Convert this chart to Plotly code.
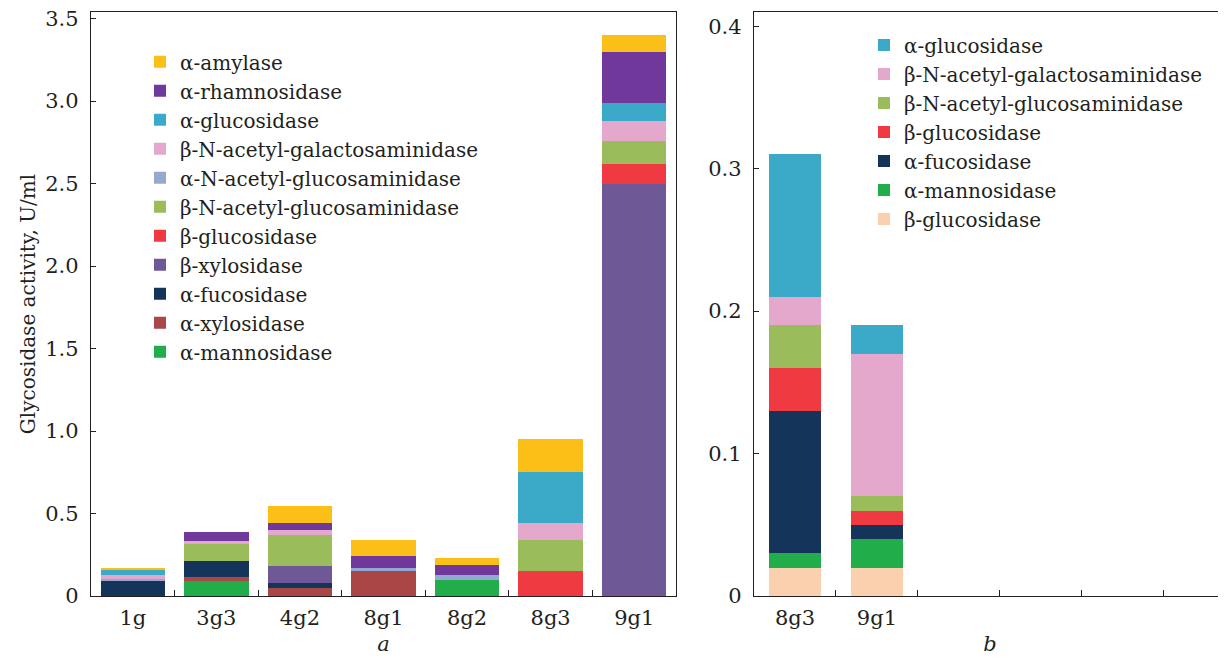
import plotly.graph_objects as go

# ---------------- data: panel a ----------------
cats_a = ["1g", "3g3", "4g2", "8g1", "8g2", "8g3", "9g1"]
# stacked bottom -> top
a_mannosidase   = [0, 0.09, 0, 0, 0.10, 0, 0]
a_a_xylosidase  = [0, 0.025, 0.05, 0.15, 0, 0, 0]
a_fucosidase    = [0.095, 0.10, 0.03, 0, 0, 0, 0]
a_b_xylosidase  = [0, 0, 0.10, 0, 0, 0, 2.50]
a_b_glucosidase = [0, 0, 0, 0, 0, 0.15, 0.12]
a_b_nac_glc     = [0, 0.10, 0.19, 0, 0, 0.19, 0.14]
a_a_nac_glc     = [0.01, 0, 0, 0.02, 0.03, 0, 0]
a_b_nac_gal     = [0.02, 0.02, 0.03, 0, 0, 0.10, 0.12]
a_a_glucosidase = [0.03, 0, 0, 0, 0, 0.31, 0.11]
a_rhamnosidase  = [0, 0.05, 0.045, 0.07, 0.055, 0, 0.31]
a_amylase       = [0.015, 0, 0.10, 0.10, 0.045, 0.20, 0.10]

# ---------------- data: panel b ----------------
cats_b = ["8g3", "9g1"]
b_b_glucosidase_peach = [0.02, 0.02]
b_mannosidase   = [0.01, 0.02]
b_fucosidase    = [0.10, 0.01]
b_b_glucosidase = [0.03, 0.01]
b_b_nac_glc     = [0.03, 0.01]
b_b_nac_gal     = [0.02, 0.10]
b_a_glucosidase = [0.10, 0.02]

ticks_a = [0, 0.5, 1.0, 1.5, 2.0, 2.5, 3.0, 3.5]
ticklabels_a = ["0", "0.5", "1.0", "1.5", "2.0", "2.5", "3.0", "3.5"]
ticks_b = [0, 0.1, 0.2, 0.3, 0.4]
ticklabels_b = ["0", "0.1", "0.2", "0.3", "0.4"]

C = {
    "amylase": "#fbbf18",
    "rham": "#70389a",
    "aglc": "#3aaac8",
    "bnacgal": "#e3a8cc",
    "anacglc": "#93a9d3",
    "bnacglc": "#9bbc5a",
    "bglc": "#ee3a40",
    "bxyl": "#6f5896",
    "fuc": "#14345a",
    "axyl": "#a94646",
    "man": "#22ad4b",
    "peach": "#fbd0ae",
}

FONT = "DejaVu Serif"
TXT = "#231f20"
W, H = 1218, 650   # page body has an 8px margin; figure offset by (8, 8)

fig = go.Figure()

series_a = [
    ("α-mannosidase", a_mannosidase, C["man"]),
    ("α-xylosidase", a_a_xylosidase, C["axyl"]),
    ("α-fucosidase", a_fucosidase, C["fuc"]),
    ("β-xylosidase", a_b_xylosidase, C["bxyl"]),
    ("β-glucosidase", a_b_glucosidase, C["bglc"]),
    ("β-N-acetyl-glucosaminidase", a_b_nac_glc, C["bnacglc"]),
    ("α-N-acetyl-glucosaminidase", a_a_nac_glc, C["anacglc"]),
    ("β-N-acetyl-galactosaminidase", a_b_nac_gal, C["bnacgal"]),
    ("α-glucosidase", a_a_glucosidase, C["aglc"]),
    ("α-rhamnosidase", a_rhamnosidase, C["rham"]),
    ("α-amylase", a_amylase, C["amylase"]),
]
for name, vals, col in series_a:
    fig.add_trace(go.Bar(
        x=cats_a, y=vals, name=name, marker=dict(color=col, line=dict(width=0)),
        xaxis="x", yaxis="y", legend="legend",
    ))

series_b = [
    ("β-glucosidase", b_b_glucosidase_peach, C["peach"]),
    ("α-mannosidase", b_mannosidase, C["man"]),
    ("α-fucosidase", b_fucosidase, C["fuc"]),
    ("β-glucosidase", b_b_glucosidase, C["bglc"]),
    ("β-N-acetyl-glucosaminidase", b_b_nac_glc, C["bnacglc"]),
    ("β-N-acetyl-galactosaminidase", b_b_nac_gal, C["bnacgal"]),
    ("α-glucosidase", b_a_glucosidase, C["aglc"]),
]
for name, vals, col in series_b:
    fig.add_trace(go.Bar(
        x=list(range(len(cats_b))), y=vals, name=name, width=0.63,
        marker=dict(color=col, line=dict(width=0)),
        xaxis="x2", yaxis="y2", legend="legend2",
    ))

axis_common = dict(
    showline=True, linecolor=TXT, linewidth=1.3, showgrid=False, zeroline=False,
    tickfont=dict(family=FONT, size=21, color=TXT), tickcolor=TXT,
    ticklabeloverflow="allow",
)

fig.update_layout(
    width=W, height=H,
    margin=dict(l=0, r=0, t=4, b=62),
    paper_bgcolor="white", plot_bgcolor="white",
    barmode="stack", bargap=0.23,
    font=dict(family=FONT, size=20, color=TXT),
    showlegend=True,
    xaxis=dict(
        domain=[83 / W, 668 / W], anchor="y", type="category",
        categoryorder="array", categoryarray=cats_a,
        tickson="boundaries", ticks="inside", ticklen=6, mirror=True,
        ticklabelstandoff=3,
        title=dict(text="<i>a</i>", font=dict(family=FONT, size=21, color=TXT), standoff=6),
        **axis_common,
    ),
    yaxis=dict(
        domain=[0, 1], anchor="x", range=[0, 3.54],
        tickmode="array", tickvals=ticks_a, ticktext=ticklabels_a,
        ticks="inside", ticklen=5, mirror=True, ticklabelstandoff=7,
        title=dict(text="Glycosidase activity, U/ml", font=dict(family=FONT, size=20, color=TXT), standoff=4),
        **axis_common,
    ),
    xaxis2=dict(
        domain=[746 / W, 1.0], anchor="y2", range=[-0.5, 5.26],
        tickmode="array", tickvals=list(range(len(cats_b))), ticktext=cats_b,
        ticks="", mirror=True, ticklabelstandoff=3,
        minor=dict(tickmode="array", tickvals=[0.5, 1.5, 2.5, 3.5, 4.5],
                   ticks="inside", ticklen=6, tickcolor=TXT, showgrid=False),
        title=dict(text="<i>b</i>", font=dict(family=FONT, size=21, color=TXT), standoff=6),
        **axis_common,
    ),
    yaxis2=dict(
        domain=[0, 1], anchor="x2", range=[0, 0.41],
        tickmode="array", tickvals=ticks_b, ticktext=ticklabels_b,
        ticks="inside", ticklen=5, mirror=False, ticklabelstandoff=7,
        **axis_common,
    ),
    legend=dict(
        x=132 / W, y=0.948, xanchor="left", yanchor="top",
        traceorder="reversed",
        bgcolor="rgba(0,0,0,0)", font=dict(family=FONT, size=20, color=TXT),
    ),
    legend2=dict(
        x=856 / W, y=0.977, xanchor="left", yanchor="top",
        traceorder="reversed",
        bgcolor="rgba(0,0,0,0)", font=dict(family=FONT, size=20, color=TXT),
    ),
)

fig.write_html("out.html")
